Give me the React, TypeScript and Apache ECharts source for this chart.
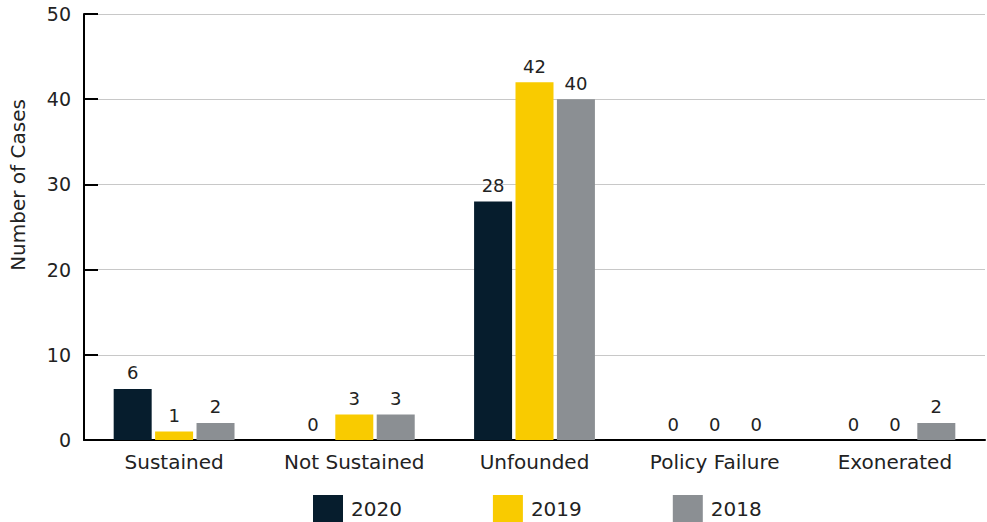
import React, { useEffect, useRef } from "react";
import * as echarts from "echarts";

const categories = ["Sustained", "Not Sustained", "Unfounded", "Policy Failure", "Exonerated"];
const years = ["2020", "2019", "2018"];
const cases2020 = [6, 0, 28, 0, 0];
const cases2019 = [1, 3, 42, 0, 0];
const cases2018 = [2, 3, 40, 0, 2];
const yTicks = { min: 0, max: 50, interval: 10 };

const colors = ["#061d2d", "#f9cb00", "#8b8f93"];
const font = "'DejaVu Sans', sans-serif";
const textColor = "#222222";

export default function App() {
  const ref = useRef<HTMLDivElement>(null);

  useEffect(() => {
    if (!ref.current) return;
    const chart = echarts.init(ref.current, null, { renderer: "svg" });
    const seriesData = [cases2020, cases2019, cases2018];
    chart.setOption({
      animation: false,
      textStyle: { fontFamily: font },
      grid: { left: 84, right: 2, top: 14, bottom: 82 },
      legend: {
        top: 495,
        left: 313,
        padding: 0,
        itemWidth: 30,
        itemHeight: 28,
        itemGap: 91,
        icon: "rect",
        textStyle: { fontFamily: font, fontSize: 20, color: textColor, padding: [0, 0, 0, 3] },
        data: years,
      },
      graphic: [
        {
          type: "text",
          x: 18,
          y: 185,
          rotation: Math.PI / 2,
          style: {
            text: "Number of Cases",
            fontFamily: font,
            fontSize: 20,
            fill: textColor,
            align: "center",
            verticalAlign: "middle",
          },
        },
      ],
      xAxis: {
        type: "category",
        data: categories,
        axisLine: { lineStyle: { color: "#000", width: 2 } },
        axisTick: { show: false },
        axisLabel: { fontFamily: font, fontSize: 20, color: textColor, margin: 12, interval: 0 },
      },
      yAxis: {
        type: "value",
        min: yTicks.min,
        max: yTicks.max,
        interval: yTicks.interval,
        axisLine: { show: true, lineStyle: { color: "#000", width: 2 } },
        axisTick: { show: true, inside: true, length: 14, lineStyle: { color: "#000", width: 2 } },
        axisLabel: { fontFamily: font, fontSize: 19, color: textColor, margin: 13 },
        splitLine: { lineStyle: { color: "#c8c8c8", width: 1 } },
      },
      series: years.map((y, i) => ({
        name: y,
        type: "bar",
        data: seriesData[i],
        barWidth: 38,
        barGap: "9%",
        itemStyle: { color: colors[i] },
        label: {
          show: true,
          position: "top",
          distance: 7,
          fontFamily: font,
          fontSize: 18,
          color: textColor,
        },
      })),
    });
    return () => chart.dispose();
  }, []);

  return (
    <div
      ref={ref}
      style={{ position: "absolute", left: 0, top: 0, width: 987, height: 522 }}
    />
  );
}
